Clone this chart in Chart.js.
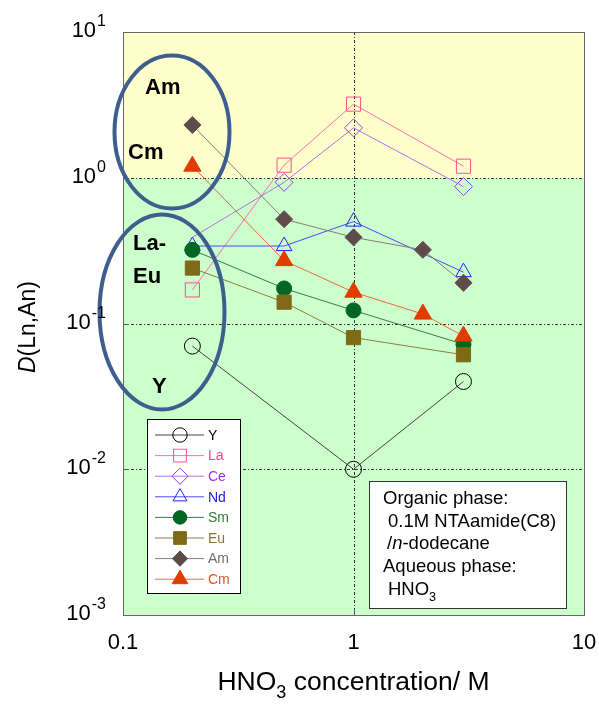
<!DOCTYPE html>
<html>
<head>
<meta charset="utf-8">
<script src="https://cdn.jsdelivr.net/npm/chart.js@4.4.1/dist/chart.umd.min.js"></script>
<style>
    body { margin: 0; background: #fff; }
    #wrap { width: 599px; height: 705px; }
</style>
</head>
<body>
<div id="wrap"><canvas id="chart" width="599" height="705"></canvas></div>
<script>
// HNO3 concentrations (M)
const hno3 = [0.2, 0.5, 1, 2, 3];

// Distribution ratios per element (null = not measured)
const dY  = [0.07, null, 0.01, null, 0.04];
const dLa = [0.17, 1.22, 3.2, null, 1.2];
const dCe = [0.39, 0.93, 2.2, null, 0.87];
const dNd = [0.34, 0.34, 0.50, null, 0.225];
const dSm = [0.32, 0.174, 0.123, null, 0.072];
const dEu = [0.24, 0.14, 0.08, null, 0.061];
const dAm = [2.3, 0.52, 0.39, 0.32, 0.19];
const dCm = [1.2, 0.27, 0.164, 0.116, 0.082];

const elements = ['Y', 'La', 'Ce', 'Nd', 'Sm', 'Eu', 'Am', 'Cm'];
const seriesValues = [dY, dLa, dCe, dNd, dSm, dEu, dAm, dCm];

// Axis ticks
const xTickValues = [0.1, 1, 10];
const xTickLabels = ['0.1', '1', '10'];
const yTickExponents = [1, 0, -1, -2, -3];

// Marker look per element
const markerColors = ['#000000', '#FF4D94', '#9B3BF0', '#2424F0', '#006622', '#7F6A17', '#5F4B4B', '#E03C00'];
const lineColors   = ['#444444', '#FF6FA8', '#B070F0', '#4A4AF5', '#3B7A4A', '#8F7D40', '#8A7A7A', '#F06A40'];
const textColors   = ['#000000', '#FF3D8B', '#A033E0', '#1A1AE6', '#2E7D32', '#8B7530', '#7A6A6A', '#F05020'];
const pointStyles  = ['circle', 'rect', 'rectRot', 'triangle', 'circle', 'rect', 'rectRot', 'triangle'];
const filled       = [false, false, false, false, true, true, true, true];
const radii        = [8, 10, 9, 9, 7.5, 10, 8.5, 10];

const FONT = '"Liberation Sans", Arial, sans-serif';
const ELLIPSE_COLOR = '#3E5F8E';

/**
 * Build scatter datasets from the value arrays
 */
function buildDatasets() {
    return elements.map((name, i) => {
        const points = hno3
            .map((x, j) => ({ x: x, y: seriesValues[i][j] }))
            .filter(p => p.y !== null);
        // Ce marker at 0.2 M is hidden under the Nd/Sm markers in the original
        const sizes = points.map(p => (name === 'Ce' && p.x === 0.2) ? 0 : radii[i]);
        return {
            label: name,
            data: points,
            showLine: true,
            borderColor: lineColors[i],
            borderWidth: 1,
            pointStyle: pointStyles[i],
            pointRadius: sizes,
            pointBorderColor: markerColors[i],
            pointBackgroundColor: filled[i] ? markerColors[i] : 'rgba(0,0,0,0)',
            pointBorderWidth: 1,
            order: elements.length - i
        };
    });
}

/**
 * Draw text with italic / subscript parts, returns the end x
 */
function drawSubText(ctx, parts, x, y, size) {
    let cx = x;
    parts.forEach(p => {
        const s = p.sub ? size * 0.68 : size;
        ctx.font = (p.italic ? 'italic ' : '') + s + 'px ' + FONT;
        ctx.fillText(p.t, cx, p.sub ? y + size * 0.3 : y);
        cx += ctx.measureText(p.t).width;
    });
    return cx;
}

function measureSubText(ctx, parts, size) {
    let w = 0;
    parts.forEach(p => {
        const s = p.sub ? size * 0.68 : size;
        ctx.font = (p.italic ? 'italic ' : '') + s + 'px ' + FONT;
        w += ctx.measureText(p.t).width;
    });
    return w;
}

// Background bands, grid lines and decorations
const decorPlugin = {
    id: 'decor',
    beforeDatasetsDraw(chart) {
        const { ctx, chartArea: a, scales } = chart;
        const y1 = scales.y.getPixelForValue(1);

        ctx.save();
        ctx.fillStyle = '#FFFFCC';
        ctx.fillRect(a.left, a.top, a.right - a.left, y1 - a.top);
        ctx.fillStyle = '#CCFFCC';
        ctx.fillRect(a.left, y1, a.right - a.left, a.bottom - y1);

        // Dash-dot grid at decades
        ctx.strokeStyle = '#333333';
        ctx.lineWidth = 1;
        ctx.setLineDash([3, 2, 1, 2]);
        [1, 0.1, 0.01].forEach(v => {
            const y = Math.round(scales.y.getPixelForValue(v)) + 0.5;
            ctx.beginPath();
            ctx.moveTo(a.left, y);
            ctx.lineTo(a.right, y);
            ctx.stroke();
        });
        const x1 = Math.round(scales.x.getPixelForValue(1)) + 0.5;
        ctx.beginPath();
        ctx.moveTo(x1, a.top);
        ctx.lineTo(x1, a.bottom);
        ctx.stroke();
        ctx.setLineDash([]);

        // Inward decade ticks
        ctx.strokeStyle = '#555555';
        yTickExponents.forEach(e => {
            const y = Math.round(scales.y.getPixelForValue(Math.pow(10, e))) + 0.5;
            ctx.beginPath();
            ctx.moveTo(a.left, y);
            ctx.lineTo(a.left + 6, y);
            ctx.stroke();
        });
        xTickValues.forEach(v => {
            const x = Math.round(scales.x.getPixelForValue(v)) + 0.5;
            ctx.beginPath();
            ctx.moveTo(x, a.bottom);
            ctx.lineTo(x, a.bottom - 6);
            ctx.stroke();
        });
        ctx.restore();
    },
    afterDatasetsDraw(chart) {
        const { ctx, chartArea: a } = chart;
        ctx.save();

        // Plot frame
        ctx.strokeStyle = '#666666';
        ctx.lineWidth = 1;
        ctx.strokeRect(Math.round(a.left) + 0.5, Math.round(a.top) + 0.5,
            Math.round(a.right - a.left), Math.round(a.bottom - a.top));

        // Grouping ellipses
        ctx.strokeStyle = ELLIPSE_COLOR;
        ctx.lineWidth = 4;
        ctx.beginPath();
        ctx.ellipse(172, 132, 57.5, 76.5, 0, 0, Math.PI * 2);
        ctx.stroke();
        ctx.beginPath();
        ctx.ellipse(162, 312, 62.5, 97.5, 0, 0, Math.PI * 2);
        ctx.stroke();

        // Group labels
        ctx.fillStyle = '#000000';
        ctx.font = 'bold 22px ' + FONT;
        ctx.textAlign = 'left';
        ctx.textBaseline = 'alphabetic';
        ctx.fillText('Am', 145, 94);
        ctx.fillText('Cm', 128, 159);
        ctx.fillText('La-', 133, 250);
        ctx.fillText('Eu', 133, 283);
        ctx.fillText('Y', 152, 393);

        // Legend box
        const lx = 147, ly = 419, lw = 93, lh = 174;
        ctx.fillStyle = '#FFFFFF';
        ctx.fillRect(lx, ly, lw, lh);
        ctx.strokeStyle = '#000000';
        ctx.lineWidth = 1;
        ctx.strokeRect(lx + 0.5, ly + 0.5, lw, lh);
        elements.forEach((name, i) => {
            const y = 435 + i * 20.6;
            ctx.strokeStyle = lineColors[i];
            ctx.lineWidth = 1;
            ctx.beginPath();
            ctx.moveTo(155, y);
            ctx.lineTo(204, y);
            ctx.stroke();
            ctx.strokeStyle = markerColors[i];
            ctx.fillStyle = filled[i] ? markerColors[i] : 'rgba(0,0,0,0)';
            Chart.helpers.drawPoint(ctx, {
                pointStyle: pointStyles[i],
                radius: radii[i] * 0.9,
                rotation: 0,
                borderWidth: 1
            }, 180, y);
            ctx.fillStyle = textColors[i];
            ctx.font = '14px ' + FONT;
            ctx.textBaseline = 'middle';
            ctx.fillText(name, 208, y + 1);
        });

        // Conditions box
        ctx.textBaseline = 'alphabetic';
        ctx.fillStyle = '#FFFFFF';
        ctx.fillRect(369, 481, 197, 127);
        ctx.strokeStyle = '#333333';
        ctx.strokeRect(369.5, 481.5, 197, 127);
        ctx.fillStyle = '#000000';
        const fs = 18.5;
        drawSubText(ctx, [{ t: 'Organic phase:' }], 383, 504, fs);
        drawSubText(ctx, [{ t: '0.1M NTAamide(C8)' }], 388, 527, fs);
        drawSubText(ctx, [{ t: '/' }, { t: 'n', italic: true }, { t: '-dodecane' }], 387, 549, fs);
        drawSubText(ctx, [{ t: 'Aqueous phase:' }], 383, 572, fs);
        drawSubText(ctx, [{ t: 'HNO' }, { t: '3', sub: true }], 388, 595, fs);

        ctx.restore();
    },
    afterDraw(chart) {
        const { ctx, chartArea: a, scales } = chart;
        ctx.save();
        ctx.fillStyle = '#000000';
        ctx.textBaseline = 'alphabetic';

        // Y tick labels 10^n
        yTickExponents.forEach(e => {
            const y = scales.y.getPixelForValue(Math.pow(10, e));
            const expText = String(e);
            ctx.font = '16px ' + FONT;
            ctx.textAlign = 'right';
            ctx.fillText(expText, 106, y - 6);
            const ew = ctx.measureText(expText).width;
            ctx.font = '22px ' + FONT;
            ctx.fillText('10', 106 - ew - 1, y + 5);
        });

        // X tick labels
        ctx.font = '22px ' + FONT;
        ctx.textAlign = 'center';
        xTickValues.forEach((v, i) => {
            ctx.fillText(xTickLabels[i], scales.x.getPixelForValue(v), 649);
        });

        // X axis title
        ctx.textAlign = 'left';
        const xParts = [{ t: 'HNO' }, { t: '3', sub: true }, { t: ' concentration/ M' }];
        const tw = measureSubText(ctx, xParts, 26.5);
        const cx = (a.left + a.right) / 2;
        drawSubText(ctx, xParts, cx - tw / 2, 690, 26.5);

        // Y axis title
        ctx.translate(35, 327);
        ctx.rotate(-Math.PI / 2);
        const yParts = [{ t: 'D', italic: true }, { t: '(Ln,An)' }];
        const yw = measureSubText(ctx, yParts, 23);
        drawSubText(ctx, yParts, -yw / 2, 0, 23);
        ctx.restore();
    }
};

new Chart(document.getElementById('chart'), {
    type: 'scatter',
    data: { datasets: buildDatasets() },
    options: {
        responsive: false,
        animation: false,
        layout: { padding: { left: 123, top: 32, right: 15, bottom: 90 } },
        plugins: {
            legend: { display: false },
            tooltip: { enabled: false }
        },
        scales: {
            x: { type: 'logarithmic', min: 0.1, max: 10, display: false },
            y: { type: 'logarithmic', min: 0.001, max: 10, display: false }
        }
    },
    plugins: [decorPlugin]
});
</script>
</body>
</html>
